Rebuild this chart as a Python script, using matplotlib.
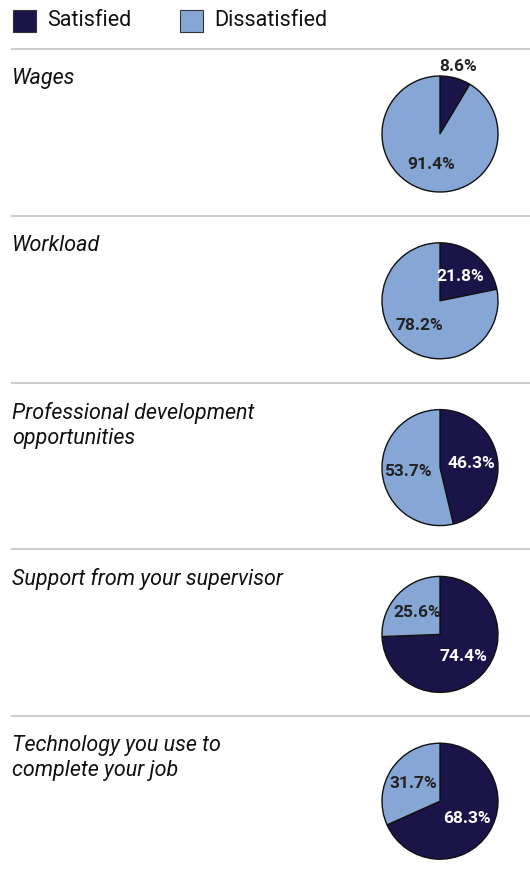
import numpy as np
import matplotlib
matplotlib.use("Agg")
from matplotlib import pyplot as plt
from matplotlib.patches import Rectangle

topics = ["Wages", "Workload", "Professional development\nopportunities",
          "Support from your supervisor", "Technology you use to\ncomplete your job"]
satisfied = [8.6, 21.8, 46.3, 74.4, 68.3]
dissatisfied = [91.4, 78.2, 53.7, 25.6, 31.7]
series = ["Satisfied", "Dissatisfied"]
colors = ["#1a1448", "#86a6d6"]
text_colors = ["white", "#222222"]

W, H = 530, 880
fig = plt.figure(figsize=(W / 100, H / 100), dpi=100)
base = fig.add_axes([0, 0, 1, 1])
base.set_xlim(0, W)
base.set_ylim(H, 0)
base.axis("off")

# legend
lx = [13, 180]
for i, name in enumerate(series):
    base.add_patch(Rectangle((lx[i], 10), 23, 22, facecolor=colors[i],
                             edgecolor="#333333", linewidth=0.8))
    base.text(lx[i] + 34, 21, name, fontsize=15.5, family="Roboto",
              va="center", ha="left", color="#111111")

row_h = 166.8
r_px = 58
cx = 440
for i, topic in enumerate(topics):
    top = 49 + row_h * i
    base.plot([12, W], [top, top], color="#cccccc", lw=1.5)
    base.text(12, top + 19, topic, fontsize=15.5, family="Roboto", style="italic",
              va="top", ha="left", color="#111111", linespacing=1.25)

    cy = top + 85
    ax = fig.add_axes([(cx - r_px) / W, 1 - (cy + r_px) / H, 2 * r_px / W, 2 * r_px / H])
    vals = [satisfied[i], dissatisfied[i]]
    wedges, _ = ax.pie(vals, colors=colors, startangle=90, counterclock=False,
                       wedgeprops=dict(edgecolor="#111111", linewidth=1))
    ax.set_xlim(-1, 1)
    ax.set_ylim(-1, 1)
    ax.set_aspect("equal")
    ax.axis("off")

    start = 90.0
    for j, v in enumerate(vals):
        span = 360 * v / 100
        mid = np.deg2rad(start - span / 2)
        start -= span
        if v < 12:
            rr, tc = 1.2, "#222222"
        else:
            rr, tc = 0.55, text_colors[j]
        ax.text(rr * np.cos(mid), rr * np.sin(mid), f"{v:.1f}%", ha="center",
                va="center", fontsize=12.5, fontweight="bold", family="Roboto",
                color=tc, clip_on=False)

fig.savefig("out.png", dpi=100)
